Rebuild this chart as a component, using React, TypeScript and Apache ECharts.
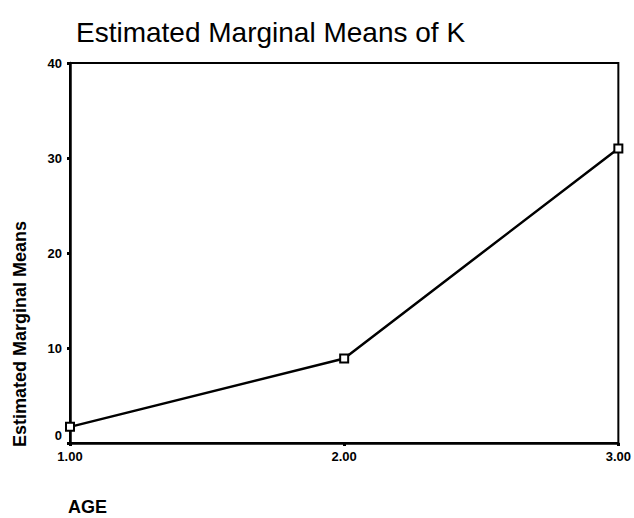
import React, { useEffect, useRef } from "react";
import * as echarts from "echarts";

const ageValues = [1, 2, 3];
const meanValues = [1.7, 8.9, 31.0];
const yTicks = [0, 10, 20, 30, 40];

export default function App() {
  const ref = useRef<HTMLDivElement>(null);
  useEffect(() => {
    const chart = echarts.init(ref.current!, null, { renderer: "svg" });
    const font = "'Liberation Sans', Arial, Helvetica, sans-serif";
    chart.setOption({
      animation: false,
      backgroundColor: "#ffffff",
      title: {
        text: "Estimated Marginal Means of K",
        left: 71,
        top: 13,
        textStyle: { fontFamily: font, fontSize: 28, fontWeight: "normal", color: "#000" },
      },
      graphic: [
        {
          type: "text",
          x: 20,
          y: 334,
          rotation: Math.PI / 2,
          style: {
            text: "Estimated Marginal Means",
            fontFamily: font,
            fontSize: 18,
            fontWeight: "bold",
            fill: "#000",
            align: "center",
            verticalAlign: "middle",
          },
        },
      ],
      grid: { left: 70, right: 12, top: 63, bottom: 75, show: true, borderColor: "#000", borderWidth: 2, backgroundColor: "transparent" },
      xAxis: {
        type: "value",
        min: 1,
        max: 3,
        interval: 1,
        name: "AGE",
        nameLocation: "start",
        nameGap: 0,
        nameTextStyle: { fontFamily: font, fontSize: 18, fontWeight: "bold", color: "#000", align: "left", verticalAlign: "top", padding: [55, 0, 0, -2] },
        axisLine: { show: true, lineStyle: { color: "#000", width: 2.5 } },
        axisTick: { show: true, length: 3, inside: false, lineStyle: { color: "#000", width: 3 } },
        axisLabel: { fontFamily: font, fontSize: 13, fontWeight: "bold", color: "#000", margin: 7, formatter: (v: number) => v.toFixed(2) },
        splitLine: { show: false },
      },
      yAxis: {
        type: "value",
        min: yTicks[0],
        max: yTicks[yTicks.length - 1],
        interval: 10,
        axisLine: { show: true, lineStyle: { color: "#000", width: 2.5 } },
        axisTick: { show: true, length: 3, lineStyle: { color: "#000", width: 3 } },
        axisLabel: {
          fontFamily: font,
          fontSize: 13,
          fontWeight: "bold",
          color: "#000",
          margin: 8,
          formatter: (v: number) => (v === 0 ? "{z|0}" : String(v)),
          rich: { z: { fontFamily: font, fontSize: 13, fontWeight: "bold", color: "#000", padding: [0, 0, 16, 0] } },
        },
        splitLine: { show: false },
      },
      series: [
        {
          type: "line",
          data: ageValues.map((a, i) => [a, meanValues[i]]),
          symbol: "rect",
          symbolSize: 8,
          showSymbol: true,
          lineStyle: { color: "#000", width: 2.5 },
          itemStyle: { color: "#fff", borderColor: "#000", borderWidth: 2 },
        },
      ],
    });
    return () => chart.dispose();
  }, []);
  return <div ref={ref} style={{ width: 634, height: 518, position: "absolute", left: 0, top: 0 }} />;
}
